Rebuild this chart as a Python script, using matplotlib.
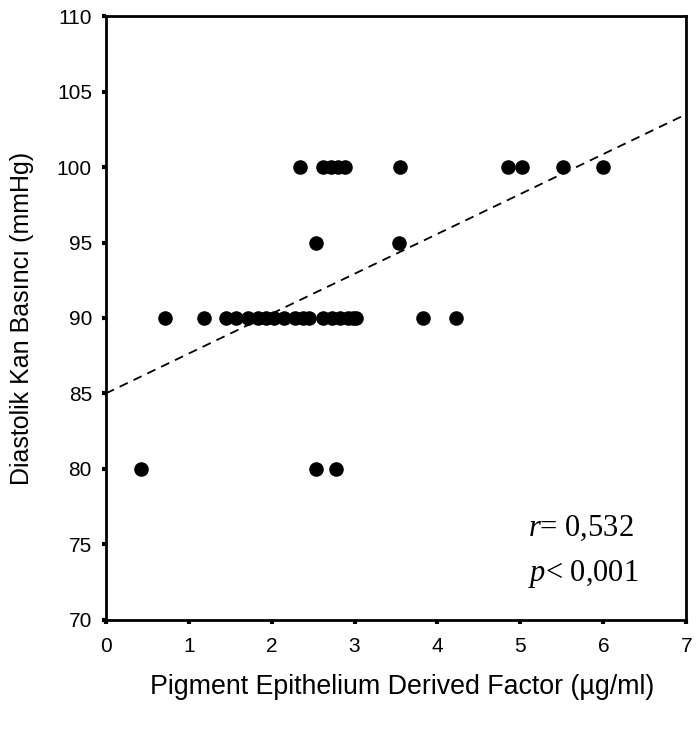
import matplotlib
matplotlib.use("Agg")
import matplotlib.pyplot as plt
import numpy as np

plt.rcParams['font.family'] = ['Liberation Sans', 'DejaVu Sans']
plt.rcParams['mathtext.fontset'] = 'custom'
plt.rcParams['mathtext.rm'] = 'Liberation Serif'
plt.rcParams['mathtext.it'] = 'Liberation Serif:italic'

# Data
pedf_100 = [2.34, 2.62, 2.72, 2.8, 2.88, 3.55, 4.85, 5.02, 5.51, 6.0]
pedf_95 = [2.53, 3.53]
pedf_90 = [0.71, 1.19, 1.45, 1.57, 1.72, 1.83, 1.93, 2.03, 2.15, 2.28, 2.38, 2.45,
           2.62, 2.73, 2.83, 2.92, 2.98, 3.02, 3.82, 4.22]
pedf_80 = [0.43, 2.53, 2.78]
trend_x = [0, 7]
trend_y = [85.0, 103.5]

xs = pedf_100 + pedf_95 + pedf_90 + pedf_80
ys = [100] * len(pedf_100) + [95] * len(pedf_95) + [90] * len(pedf_90) + [80] * len(pedf_80)

fig = plt.figure(figsize=(6.96, 7.31), dpi=100)
ax = fig.add_axes([0.152, 0.152, 0.834, 0.826])

ax.plot(trend_x, trend_y, linestyle=(0, (5, 3.5)), color='black', linewidth=1.3, zorder=2)
ax.scatter(xs, ys, s=110, color='black', zorder=3, linewidths=0)

ax.set_xlim(0, 7)
ax.set_ylim(70, 110)
ax.set_xticks(range(0, 8))
ax.set_yticks(range(70, 111, 5))
ax.tick_params(direction='out', length=3, width=3, labelsize=15)
ax.tick_params(axis='x', pad=9)
ax.tick_params(axis='y', pad=7)
for s in ax.spines.values():
    s.set_linewidth(2)

ax.set_xlabel('Pigment Epithelium Derived Factor (µg/ml)', fontsize=19.3)
ax.set_ylabel('Diastolik Kan Basıncı (mmHg)', fontsize=18)
ax.xaxis.set_label_coords(0.51, -0.090)
ax.yaxis.set_label_coords(-0.124, 0.5)

ax.text(5.09, 75.6, '$r$= 0,532', fontfamily='Liberation Serif', fontsize=22, va='baseline')
ax.text(5.09, 72.6, '$p$< 0,001', fontfamily='Liberation Serif', fontsize=22, va='baseline')

fig.savefig('out.png', dpi=100)
